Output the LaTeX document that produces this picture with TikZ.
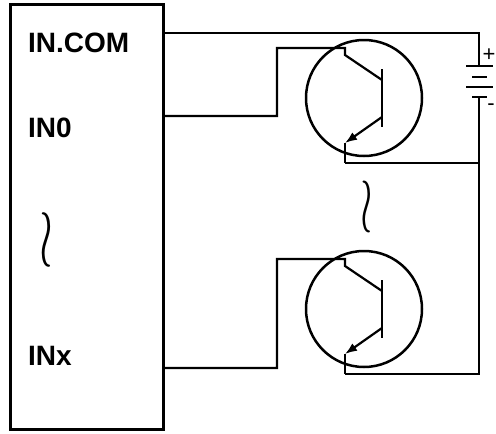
\documentclass[tikz,border=0pt]{standalone}
\usepackage{fontspec}
\usepackage{graphicx}
\setmainfont{Liberation Sans}
\usetikzlibrary{arrows.meta}

\begin{document}
\begin{tikzpicture}[x=1pt,y=-1pt,
  wire/.style={line width=2.2pt},
  pinlabel/.style={font=\fontsize{28}{30}\selectfont\bfseries, anchor=west, inner sep=0pt},
  sign/.style={font=\fontsize{22}{24}\selectfont, inner sep=0pt}]
\useasboundingbox (0,0) rectangle (496,434);
% controller box
\node[draw, line width=3pt, minimum width=153pt, minimum height=425pt,
  anchor=north west, inner sep=0pt] (plc) at (9,3) {};
\node[pinlabel] (com) at (28,43) {IN.COM};
\node[pinlabel] (in0) at (28,128) {IN0};
\node[pinlabel] (inx) at (28,356) {INx};
\node[inner sep=0pt] (skip1) at (46,240) {\scalebox{5}[8.2]{$\wr$}};
\node[inner sep=0pt] (skip2) at (367,207) {\scalebox{4.5}[7.8]{$\wr$}};

% transistors
\foreach \n/\cy/\py in {0/98/116, x/309/368} {
  \node[draw, circle, line width=2.5pt, minimum size=116pt, inner sep=0pt] (q\n) at (364,\cy) {};
  \coordinate (bt\n) at ([shift={(18,-29)}]q\n.center);
  \coordinate (bb\n) at ([shift={(18,29)}]q\n.center);
  \coordinate (cb\n) at ([shift={(18,-18)}]q\n.center);
  \coordinate (c\n) at ([shift={(-19,-43)}]q\n.center);
  \coordinate (eb\n) at ([shift={(18,19)}]q\n.center);
  \coordinate (e\n) at ([shift={(-19,45)}]q\n.center);
  \coordinate (g\n) at ([shift={(-19,65)}]q\n.center);
  \draw[wire] (bt\n) -- (bb\n);
  \draw[wire] (cb\n) -- (c\n) -- ++(0,-7) -| (277,\py) -- (plc.east |- 0,\py);
  \draw[wire,-{Latex[length=12pt,width=9pt]}] (eb\n) -- (e\n);
  \draw[wire] (e\n) -- (g\n);
}

% battery
\coordinate (batp) at (479,66);
\coordinate (batn) at (479,97);
\draw[wire] (466,66) -- (493,66);
\draw[wire] (472,77) -- (487,77);
\draw[wire] (466,87) -- (493,87);
\draw[wire] (472,97) -- (487,97);
\node[sign] (plus) at (489,55) {+};
\node[sign] (minus) at (491,107) {-};

\draw[wire] (plc.east |- 0,33) -| (batp);
\draw[wire] (batn) |- (gx);
\draw[wire] (g0) -- (g0 -| batn);
\end{tikzpicture}
\end{document}
